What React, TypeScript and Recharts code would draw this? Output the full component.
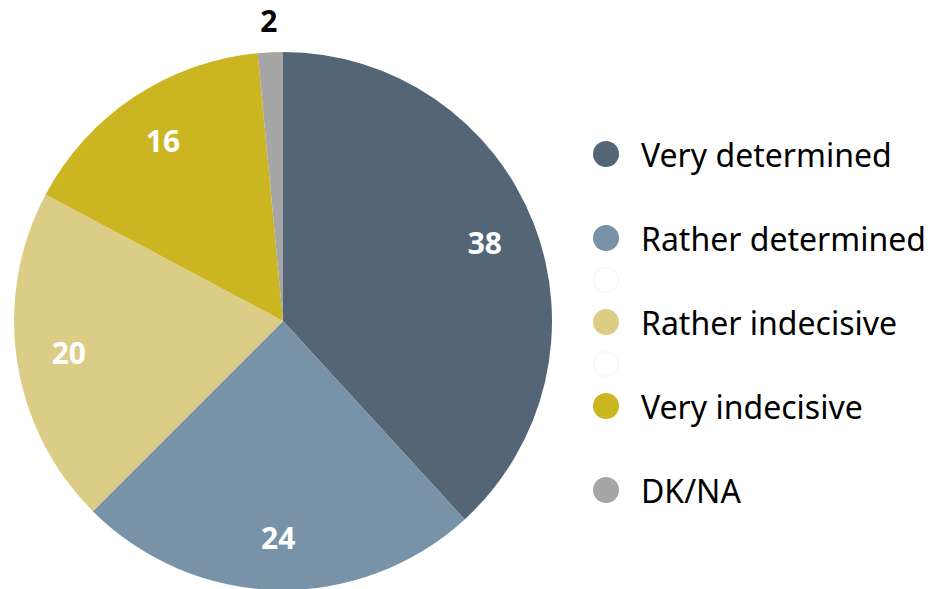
import React from 'react';
import { PieChart, Pie, Cell } from 'recharts';

const categories = ['Very determined', 'Rather determined', 'Rather indecisive', 'Very indecisive', 'DK/NA'];
// shares; labels show them rounded
const values = [38.2, 24.3, 20.3, 15.7, 1.5];
const colors = ['#546576', '#7892a7', '#dccd86', '#cbb520', '#a6a6a6'];
// legend slots (42px apart); filled ones hold categories, two faint blanks between
const legendSlots = [0, 2, 4, 6, 8];
const blankSlots = [3, 5];

const data = categories.map((name, i) => ({ name, value: values[i] }));

const FONT = '"Noto Sans", "Open Sans", sans-serif';
const RADIAN = Math.PI / 180;

interface LabelProps {
  cx: number;
  cy: number;
  midAngle: number;
  outerRadius: number;
  value: number;
}

const renderLabel = ({ cx, cy, midAngle, outerRadius, value }: LabelProps) => {
  const small = value < 5;
  const r = small ? outerRadius + 32 : outerRadius * 0.805;
  const x = cx + r * Math.cos(-midAngle * RADIAN);
  const y = cy + r * Math.sin(-midAngle * RADIAN);
  return (
    <text
      x={x}
      y={y}
      fill={small ? '#000' : '#fff'}
      textAnchor="middle"
      dominantBaseline="central"
      fontFamily={FONT}
      fontWeight="bold"
      fontSize={30}
    >
      {Math.round(value)}
    </text>
  );
};

const LegendBox: React.FC = () => {
  const top0 = 154;
  const step = 42;
  return (
    <div style={{ position: 'absolute', left: 0, top: 0, width: 933, height: 589, pointerEvents: 'none' }}>
      {blankSlots.map((s) => (
        <div
          key={'b' + s}
          style={{
            position: 'absolute', left: 593, top: top0 + s * step - 13,
            width: 24, height: 24, borderRadius: '50%', border: '1px solid #f4f4f4',
          }}
        />
      ))}
      {categories.map((c, i) => (
        <div
          key={c}
          style={{
            position: 'absolute', left: 593, top: top0 + legendSlots[i] * step - 21,
            height: 42, display: 'flex', alignItems: 'center', whiteSpace: 'nowrap',
          }}
        >
          <div style={{ width: 26, height: 26, borderRadius: '50%', background: colors[i] }} />
          <span style={{ marginLeft: 22, fontFamily: FONT, fontSize: 32, color: '#000' }}>{c}</span>
        </div>
      ))}
    </div>
  );
};

export default function App() {
  return (
    <div style={{ position: 'absolute', left: 0, top: 0, width: 933, height: 589, background: '#fff' }}>
      <PieChart width={933} height={589} margin={{ top: 0, right: 0, bottom: 0, left: 0 }}>
        <Pie
          data={data}
          dataKey="value"
          nameKey="name"
          cx={283}
          cy={321}
          outerRadius={269}
          startAngle={90}
          endAngle={-270}
          stroke="none"
          label={renderLabel}
          labelLine={false}
          isAnimationActive={false}
        >
          {data.map((d, i) => (
            <Cell key={d.name} fill={colors[i]} />
          ))}
        </Pie>
      </PieChart>
      <LegendBox />
    </div>
  );
}
